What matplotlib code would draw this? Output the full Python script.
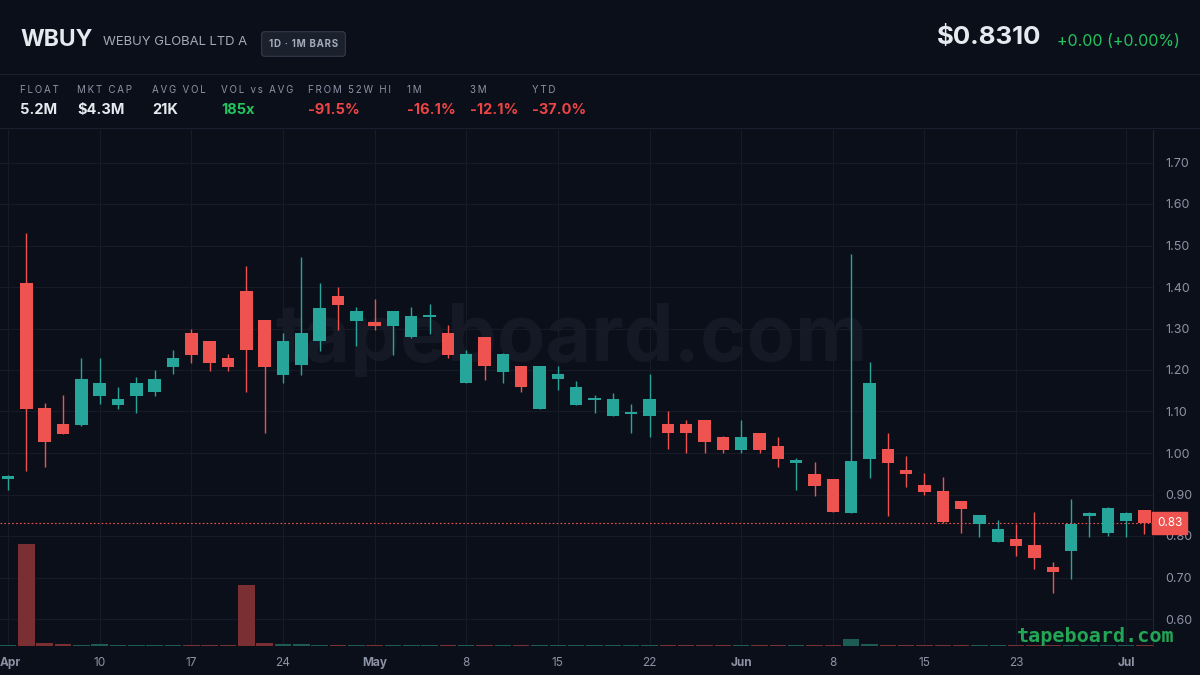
import matplotlib
matplotlib.use("Agg")
import matplotlib.pyplot as plt
from matplotlib.lines import Line2D
from matplotlib.transforms import ScaledTranslation
import pandas as pd
import numpy as np

# ---------------- data ----------------
START, END = "2026-04-02", "2026-07-02"
HOLIDAYS = ["2026-04-03", "2026-05-25", "2026-06-19", "2026-07-03"]

opens = [0.938, 1.410, 1.108, 1.070, 1.067, 1.138, 1.116, 1.138, 1.147, 1.208,
         1.289, 1.270, 1.230, 1.391, 1.320, 1.188, 1.212, 1.269, 1.378, 1.319,
         1.315, 1.306, 1.280, 1.328, 1.289, 1.168, 1.279, 1.194, 1.210, 1.107,
         1.179, 1.116, 1.128, 1.088, 1.094, 1.088, 1.070, 1.070, 1.080, 1.038,
         1.007, 1.047, 1.018, 0.977, 0.949, 0.937, 0.856, 0.986, 1.009, 0.959,
         0.923, 0.909, 0.884, 0.828, 0.786, 0.793, 0.778, 0.725, 0.765, 0.847,
         0.808, 0.837, 0.863]
highs = [0.947, 1.530, 1.120, 1.140, 1.230, 1.230, 1.160, 1.184, 1.200, 1.248,
         1.299, 1.270, 1.238, 1.451, 1.320, 1.290, 1.472, 1.410, 1.401, 1.351,
         1.370, 1.341, 1.351, 1.359, 1.308, 1.248, 1.280, 1.240, 1.210, 1.210,
         1.210, 1.174, 1.140, 1.144, 1.118, 1.190, 1.100, 1.080, 1.080, 1.040,
         1.080, 1.047, 1.038, 0.987, 0.979, 0.937, 1.480, 1.220, 1.049, 0.993,
         0.953, 0.941, 0.884, 0.851, 0.839, 0.829, 0.857, 0.738, 0.889, 0.857,
         0.871, 0.857, 0.863]
lows = [0.910, 0.957, 0.967, 1.045, 1.066, 1.118, 1.105, 1.097, 1.137, 1.190,
        1.216, 1.198, 1.198, 1.148, 1.047, 1.168, 1.188, 1.246, 1.296, 1.258,
        1.296, 1.236, 1.278, 1.287, 1.228, 1.168, 1.176, 1.169, 1.148, 1.107,
        1.152, 1.115, 1.096, 1.088, 1.047, 1.038, 1.010, 1.000, 1.000, 1.000,
        1.000, 0.999, 0.967, 0.911, 0.897, 0.859, 0.856, 0.939, 0.847, 0.917,
        0.899, 0.832, 0.807, 0.798, 0.786, 0.753, 0.720, 0.662, 0.696, 0.798,
        0.801, 0.798, 0.805]
closes = [0.945, 1.106, 1.027, 1.046, 1.178, 1.169, 1.130, 1.169, 1.178, 1.230,
          1.236, 1.218, 1.208, 1.247, 1.208, 1.270, 1.289, 1.349, 1.357, 1.341,
          1.306, 1.341, 1.330, 1.331, 1.236, 1.239, 1.209, 1.239, 1.159, 1.210,
          1.190, 1.160, 1.130, 1.129, 1.100, 1.129, 1.047, 1.047, 1.027, 1.007,
          1.038, 1.007, 0.986, 0.983, 0.921, 0.859, 0.981, 1.168, 0.977, 0.949,
          0.907, 0.834, 0.864, 0.851, 0.817, 0.777, 0.748, 0.714, 0.828, 0.856,
          0.868, 0.855, 0.831]
volumes = [30e3, 4000e3, 120e3, 80e3, 35e3, 80e3, 30e3, 30e3, 30e3, 30e3,
           30e3, 30e3, 30e3, 2400e3, 110e3, 70e3, 70e3, 30e3, 30e3, 30e3,
           30e3, 30e3, 30e3, 30e3, 30e3, 30e3, 30e3, 30e3, 30e3, 30e3,
           30e3, 30e3, 30e3, 30e3, 30e3, 30e3, 30e3, 30e3, 30e3, 30e3,
           30e3, 30e3, 30e3, 30e3, 30e3, 30e3, 280e3, 70e3, 30e3, 30e3,
           30e3, 30e3, 30e3, 30e3, 30e3, 30e3, 30e3, 30e3, 30e3, 30e3,
           30e3, 30e3, 30e3]

TICK_DATES = ["2026-04-02", "2026-04-10", "2026-04-17", "2026-04-24", "2026-05-01",
              "2026-05-08", "2026-05-15", "2026-05-22", "2026-06-01", "2026-06-08",
              "2026-06-15", "2026-06-23", "2026-07-01"]
PRICE_TICKS = [0.60, 0.70, 0.80, 0.90, 1.00, 1.10, 1.20, 1.30, 1.40, 1.50, 1.60, 1.70]

TICKER = "WBUY"
NAME = "WEBUY GLOBAL LTD A"
BADGE = "1D · 1M BARS"
LAST_PRICE = "$0.8310"
CHANGE = "+0.00 (+0.00%)"
STAT_LABELS = ["FLOAT", "MKT CAP", "AVG VOL", "VOL vs AVG", "FROM 52W HI", "1M", "3M", "YTD"]
STAT_VALUES = ["5.2M", "$4.3M", "21K", "185x", "-91.5%", "-16.1%", "-12.1%", "-37.0%"]
STAT_KIND = ["n", "n", "n", "up", "down", "down", "down", "down"]

# ---------------- style ----------------
BG = "#0b0f19"
UP = "#26a69a"
DOWN = "#ef5350"
UP_VOL = "#1d5b55"
DOWN_VOL = "#7a2f33"
GRID = "#161b27"
TXT = "#e6e9ef"
MUTED = "#8b93a5"
GREEN = "#22c55e"
RED = "#ef4444"

plt.rcParams["font.family"] = ["Inter", "DejaVu Sans"]


def spaced(s, sep):
    return sep.join(s)


dates = pd.bdate_range(START, END)
dates = dates[~dates.isin(pd.to_datetime(HOLIDAYS))]
x = np.arange(len(dates))

fig = plt.figure(figsize=(12, 6.75), dpi=100, facecolor=BG)
W, H = 1200, 675
def fx(px): return px / W
def fy(py): return 1 - py / H

# header
fig.text(fx(20), fy(40), TICKER, color=TXT, fontsize=16.5, fontweight="bold", va="center", ha="left")
fig.text(fx(103), fy(42), NAME, color="#a3abbb", fontsize=9.4, va="center", ha="left")
fig.text(fx(303.5), fy(44), spaced(BADGE, "\u200a"), color="#a3abbb", fontsize=7, fontweight="bold",
         va="center", ha="center",
         bbox=dict(boxstyle="round,pad=0.75,rounding_size=0.3", facecolor="#1a202c", edgecolor="#333b4b", lw=0.8))
fig.text(fx(1041), fy(38), LAST_PRICE, color=TXT, fontsize=18.6, fontweight="bold", va="center", ha="right")
fig.text(fx(1180), fy(41), CHANGE, color=GREEN, fontsize=11.5, va="center", ha="right")

for yy in (74, 128):
    fig.add_artist(Line2D([0, 1], [fy(yy), fy(yy)], color="#1a2030", lw=0.8, transform=fig.transFigure))

stat_x = [20, 77, 152, 221, 308, 407, 470, 532]
for sx, lab, val, kind in zip(stat_x, STAT_LABELS, STAT_VALUES, STAT_KIND):
    fig.text(fx(sx), fy(90), spaced(lab, "\u2009"), color=MUTED, fontsize=7, va="center", ha="left")
    col = TXT if kind == "n" else (GREEN if kind == "up" else RED)
    fig.text(fx(sx), fy(110), val, color=col, fontsize=10.5, fontweight="bold", va="center", ha="left")

# chart axes
left, right, top, bottom = 0, 1153, 130, 646
ax = fig.add_axes([fx(left), fy(bottom), fx(right - left), (bottom - top) / H])
ax.set_facecolor(BG)
axv = ax.twinx()
axv.patch.set_visible(False)

# watermark
ax.text(571 / right, (bottom - 340) / (bottom - top), "tapeboard.com", transform=ax.transAxes,
        fontsize=57, fontweight="bold", color="#141925", ha="center", va="center", zorder=0)

# volume (drawn above the grid)
vcols = [UP_VOL if c >= o else DOWN_VOL for o, c in zip(opens, closes)]
axv.bar(x, volumes, width=0.9, color=vcols, zorder=1)
axv.set_ylim(0, max(volumes) * (bottom - top) / 102)
axv.set_yticks([])
for s in axv.spines.values():
    s.set_visible(False)

# candles
for i in x:
    o, h, l, c = opens[i], highs[i], lows[i], closes[i]
    col = UP if c >= o else DOWN
    ax.vlines(i, l, h, color=col, lw=1.0, zorder=3)
    body = max(abs(c - o), 0.004)
    ax.bar(i, body, bottom=min(o, c), width=0.68, color=col, zorder=4, linewidth=0)

ax.set_xlim(-(8 / 18.33), (right - 8) / 18.33)
ax.set_ylim(1 + (453 - bottom) / 415, 1 + (453 - top) / 415)
axv.set_xlim(ax.get_xlim())

# ticks & grid
ax.set_yticks(PRICE_TICKS)
ax.yaxis.tick_right()
ax.yaxis.set_major_formatter(matplotlib.ticker.FormatStrFormatter("%.2f"))
ax.tick_params(axis="y", length=0, pad=9, labelcolor=MUTED, labelsize=9)
tick_idx = [int(np.where(dates == pd.Timestamp(d))[0][0]) for d in TICK_DATES]
tick_lab = []
for d in TICK_DATES:
    t = pd.Timestamp(d)
    first_of_month = dates[dates.month == t.month][0] == t
    tick_lab.append(t.strftime("%b") if first_of_month else str(t.day))
ax.set_xticks(tick_idx)
ax.set_xticklabels(tick_lab)
ax.tick_params(axis="x", length=0, pad=8, labelcolor=MUTED, labelsize=8.5)
for k, lbl in enumerate(ax.get_xticklabels()):
    if not lbl.get_text().isdigit():
        lbl.set_fontweight("bold")
    if k == 0:
        lbl.set_horizontalalignment("left")
        lbl.set_transform(lbl.get_transform() + ScaledTranslation(-0.08, 0, fig.dpi_scale_trans))
ax.grid(True, color=GRID, lw=0.8, zorder=0)
ax.set_axisbelow(True)
for s in ("top", "left", "bottom"):
    ax.spines[s].set_visible(False)
ax.spines["right"].set_color("#1f2533")

# last price line + label
last = closes[-1]
ax.axhline(last, color=DOWN, lw=0.8, ls=(0, (1.5, 2)), zorder=2)
ax.annotate(f"{last:.2f}", xy=(1.0, last), xycoords=("axes fraction", "data"),
            xytext=(3, 0), textcoords="offset points", color="white", fontsize=8.5,
            va="center", ha="left", annotation_clip=False, zorder=10,
            bbox=dict(boxstyle="square,pad=0.4", facecolor=DOWN, edgecolor=DOWN))

fig.text(fx(1175), fy(636), "tapeboard.com", color="#22a656", fontsize=14.5, fontweight="bold",
         family="DejaVu Sans Mono", ha="right", va="center")

fig.savefig("out.png", dpi=100, facecolor=BG)
